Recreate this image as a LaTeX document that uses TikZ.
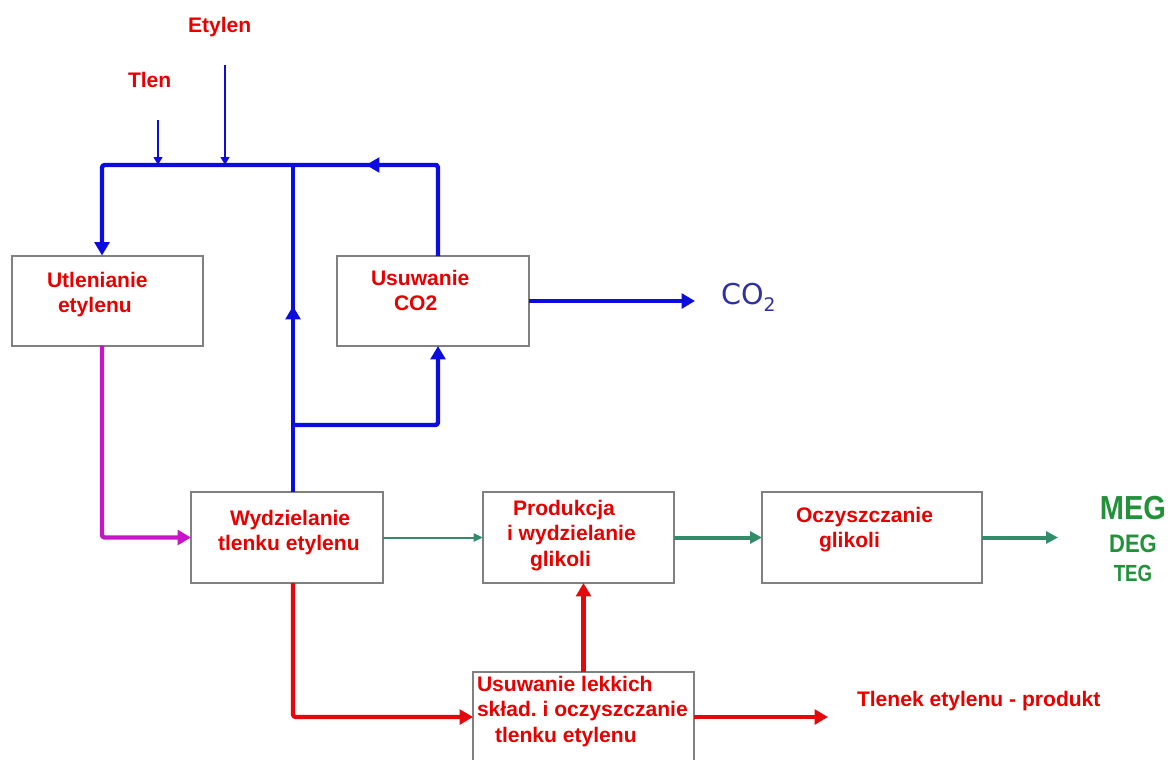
\documentclass[tikz,border=0pt]{standalone}
\usepackage{fontspec}
\setmainfont{Liberation Sans}
\newfontfamily\cofont{DejaVu Sans}
\usetikzlibrary{arrows.meta}

\definecolor{flowblue}{RGB}{12,12,225}
\definecolor{flowred}{RGB}{228,8,12}
\definecolor{labelred}{RGB}{232,0,0}
\definecolor{flowmag}{RGB}{200,20,200}
\definecolor{flowgreen}{RGB}{48,140,105}
\definecolor{prodgreen}{RGB}{34,145,58}
\definecolor{coblue}{RGB}{48,48,165}
\definecolor{boxgray}{RGB}{128,128,128}

\begin{document}
\begin{tikzpicture}[x=0.75pt,y=-0.75pt,
  unit/.style={draw=boxgray, line width=1.5pt, fill=white, rectangle,
               inner sep=0pt, outer sep=0pt},
  lbl/.style={text=labelred, font=\bfseries\fontsize{15.8}{19.2}\selectfont\frenchspacing,
              align=left, anchor=north west, inner sep=0pt, outer sep=0pt},
  pipe/.style={line width=3.3pt, line join=round, rounded corners=2pt},
  feed/.style={line width=1.8pt},
  bigtip/.style={-{Triangle[length=10pt,width=11pt]}},
  smalltip/.style={-{Triangle[length=6pt,width=6.5pt]}},
  gtip/.style={-{Triangle[length=9pt,width=9pt]}},
  thintip/.style={-{Triangle[length=7pt,width=6pt]}},
  prod/.style={text=prodgreen, anchor=north, inner sep=0pt, outer sep=0pt},
]
\useasboundingbox (0,0) rectangle (1171,760);
\clip (0,0) rectangle (1171,760);

% process units
\node[unit, minimum width=143.25pt, minimum height=67.5pt]  (ox) at (107.5,300.5) {};
\node[unit, minimum width=144pt,    minimum height=67.5pt]  (co) at (433,301) {};
\node[unit, minimum width=144pt,    minimum height=68.25pt] (wy) at (287,537.5) {};
\node[unit, minimum width=143.25pt, minimum height=68.25pt] (pr) at (578.5,537.5) {};
\node[unit, minimum width=165pt,    minimum height=68.25pt] (oc) at (872,537.5) {};
\node[unit, minimum width=165.75pt, minimum height=67.5pt]  (ul) at (583.5,717) {};

% unit labels
\node[lbl] (tox) at (47,272)  {Utlenianie\\\hspace*{8.25pt}etylenu};
\node[lbl] (tco) at (371,270) {Usuwanie\\\hspace*{17.25pt}CO2};
\node[lbl] (twy) at (218,510) {\hspace*{9pt}Wydzielanie\\tlenku etylenu};
\node[lbl] (tpr) at (507,500) {\hspace*{4.5pt}Produkcja\\i wydzielanie\\\hspace*{17.25pt}glikoli};
\node[lbl] (toc) at (796,507) {Oczyszczanie\\\hspace*{17.25pt}glikoli};
\node[lbl] (tul) at (477,676) {Usuwanie lekkich\\skład. i oczyszczanie\\\hspace*{13.5pt}tlenku etylenu};

% stream labels
\node[lbl] (tet)   at (188,17)  {Etylen};
\node[lbl] (ttl)   at (128,72)  {Tlen};
\node[lbl] (tprod) at (857,691) {Tlenek etylenu - produkt};
\node[text=coblue, anchor=north west, inner sep=0pt, outer sep=0pt,
      font=\cofont\fontsize{21.5}{24}\selectfont] (co2) at (721,283)
      {CO\raisebox{-5.5pt}{\fontsize{14}{16}\selectfont 2}};
\node[prod, font=\bfseries\fontsize{25}{28}\selectfont] (meg) at (1133,496) {\scalebox{0.87}[1]{MEG}};
\node[prod, font=\bfseries\fontsize{19}{22}\selectfont] (deg) at (1133,535) {\scalebox{0.87}[1]{DEG}};
\node[prod, font=\bfseries\fontsize{17.5}{20}\selectfont] (teg) at (1133,565) {\scalebox{0.8}[1]{TEG}};

% junctions and free ends
\coordinate (hL) at (102,165);
\coordinate (hT) at (158,165);
\coordinate (hE) at (225,165);
\coordinate (hM) at (293,165);
\coordinate (hA) at (366,165);
\coordinate (hR) at (438,165);
\coordinate (vA) at (293,306);
\coordinate (br) at (293,425);
\coordinate (tlenS) at (158,120);
\coordinate (etylS) at (225,65);
\coordinate (co2E) at (695,301);
\coordinate (megE) at (1058,537.5);
\coordinate (prodE) at (828,717);

% gas loop (blue)
\draw[flowblue, feed, smalltip] (tlenS) -- (hT);
\draw[flowblue, feed, smalltip] (etylS) -- (hE);
\draw[flowblue, pipe, bigtip] (co.north -| hR) -- (hR) -- (hL) -- (ox.north -| hL);
\draw[flowblue, pipe, bigtip] (hR) -- (hA);
\draw[flowblue, pipe] (wy.north -| hM) -- (hM);
\draw[flowblue, pipe, bigtip] (wy.north -| hM) -- (vA);
\draw[flowblue, pipe, bigtip] (br) -- (br -| hR) -- (co.south -| hR);
\draw[flowblue, pipe, bigtip] (co.east) -- (co2E);

% reactor outlet (magenta)
\draw[flowmag, pipe, bigtip] (ox.south -| hL) |- (wy.west);

% glycol line (green)
\draw[flowgreen, line width=1.5pt, thintip] (wy.east) -- (pr.west);
\draw[flowgreen, line width=3pt, gtip] (pr.east) -- (oc.west);
\draw[flowgreen, line width=3pt, gtip] (oc.east) -- (megE);

% ethylene oxide line (red)
\draw[flowred, pipe, bigtip] (wy.south -| hM) |- (ul.west);
\draw[flowred, pipe, bigtip] (ul.north) -- (ul.north |- pr.south);
\draw[flowred, pipe, bigtip] (ul.east) -- (prodE);
\end{tikzpicture}
\end{document}
